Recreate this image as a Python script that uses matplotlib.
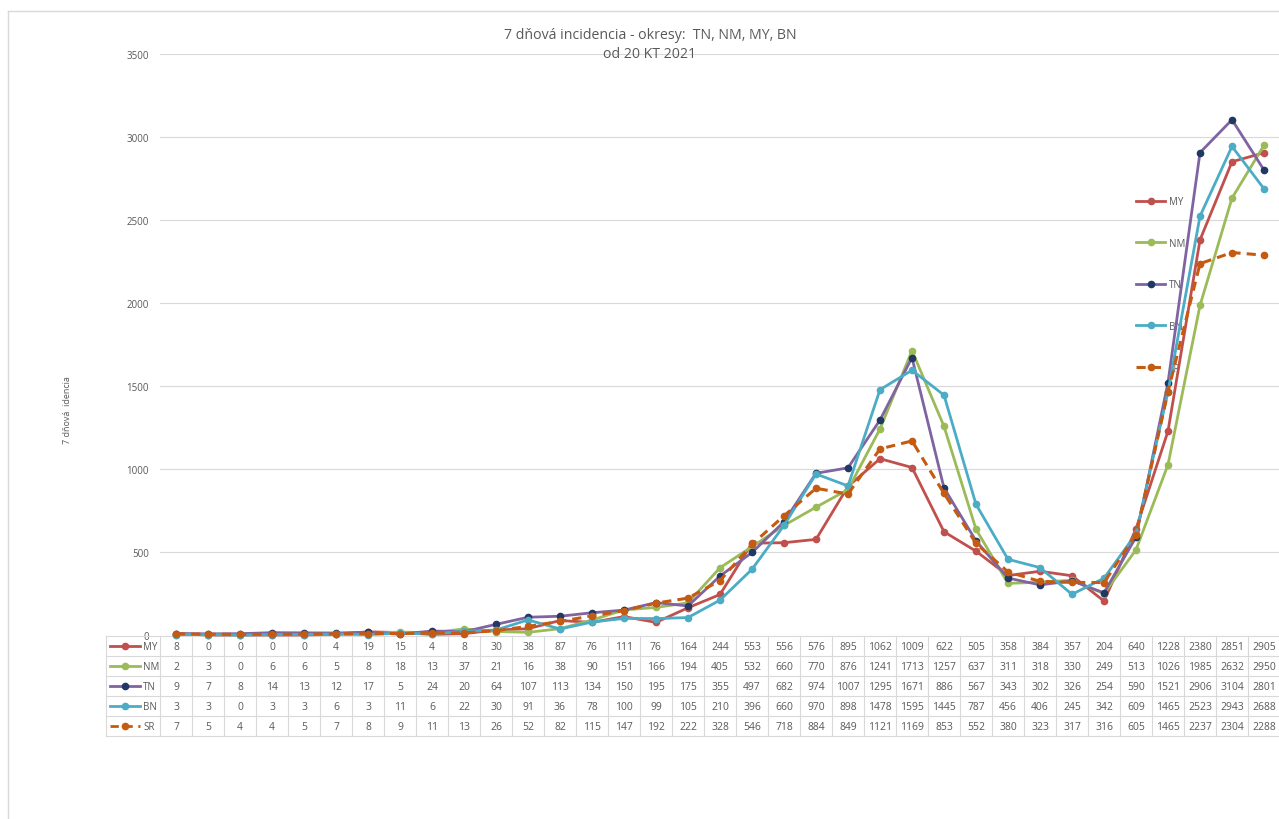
import numpy as np
import matplotlib.pyplot as plt
from matplotlib.lines import Line2D

# data
series_names = ["MY", "NM", "TN", "BN", "SR"]
my = [8, 0, 0, 0, 0, 4, 19, 15, 4, 8, 30, 38, 87, 76, 111, 76, 164, 244, 553, 556,
      576, 895, 1062, 1009, 622, 505, 358, 384, 357, 204, 640, 1228, 2380, 2851, 2905]
nm = [2, 3, 0, 6, 6, 5, 8, 18, 13, 37, 21, 16, 38, 90, 151, 166, 194, 405, 532, 660,
      770, 876, 1241, 1713, 1257, 637, 311, 318, 330, 249, 513, 1026, 1985, 2632, 2950]
tn = [9, 7, 8, 14, 13, 12, 17, 5, 24, 20, 64, 107, 113, 134, 150, 195, 175, 355, 497, 682,
      974, 1007, 1295, 1671, 886, 567, 343, 302, 326, 254, 590, 1521, 2906, 3104, 2801]
bn = [3, 3, 0, 3, 3, 6, 3, 11, 6, 22, 30, 91, 36, 78, 100, 99, 105, 210, 396, 660,
      970, 898, 1478, 1595, 1445, 787, 456, 406, 245, 342, 609, 1465, 2523, 2943, 2688]
sr = [7, 5, 4, 4, 5, 7, 8, 9, 11, 13, 26, 52, 82, 115, 147, 192, 222, 328, 546, 718,
      884, 849, 1121, 1169, 853, 552, 380, 323, 317, 316, 605, 1465, 2237, 2304, 2288]
values = [my, nm, tn, bn, sr]

colors = ["#C0504D", "#9BBB59", "#8064A2", "#4BACC6", "#C55A11"]
marker_colors = ["#C0504D", "#9BBB59", "#1F3864", "#4BACC6", "#C55A11"]
styles = ["-", "-", "-", "-", "--"]

title = "7 dňová incidencia - okresy:  TN, NM, MY, BN\nod 20 KT 2021"
ylabel = "7 dňová  idencia"
yticks = [0, 500, 1000, 1500, 2000, 2500, 3000, 3500]

plt.rcParams['font.family'] = ['Open Sans', 'DejaVu Sans']
text_col = "#595959"
grid_col = "#D9D9D9"

W, H = 1279, 820
fig = plt.figure(figsize=(W / 100, H / 100), dpi=100)


def fx(p):
    return p / W


def fy(p):
    return 1 - p / H


ax_left, ax_right, ax_top, ax_bot = 160, 1279, 55, 636
ax = fig.add_axes([fx(ax_left), fy(ax_bot), fx(ax_right - ax_left), (ax_bot - ax_top) / H])

n = len(my)
col_w = 32.0
x = np.arange(n)
ax.set_xlim(-0.5, -0.5 + (ax_right - ax_left) / col_w)
ax.set_ylim(0, 3500)


def dx(p):
    # pixel x -> data x
    return (p - ax_left) / col_w - 0.5


for name, v, c, mc, ls in zip(series_names, values, colors, marker_colors, styles):
    ax.plot(x, v, color=c, ls=ls, lw=2.0 if ls == "-" else 2.2, marker="o",
            markersize=4.5, markerfacecolor=mc, markeredgecolor=mc, label=name,
            dashes=(3, 2) if ls == "--" else (None, None), clip_on=False, zorder=3)

ax.set_yticks(yticks)
ax.set_yticklabels([str(t) for t in yticks], fontsize=7, color=text_col)
ax.tick_params(axis="y", length=0, pad=8)
ax.tick_params(axis="x", length=0, labelbottom=False)
ax.set_xticks([])
ax.grid(axis="y", color=grid_col, lw=0.8)
ax.set_axisbelow(True)
for s in ax.spines.values():
    s.set_visible(False)

# legend on the right, sits under the lines like in excel
leg = ax.legend(loc="upper left", bbox_to_anchor=(fx(1136), fy(197)),
                bbox_transform=fig.transFigure, frameon=False, fontsize=7,
                labelspacing=3.15, handlelength=3.0, handletextpad=0.35,
                borderpad=0, borderaxespad=0)
leg.set_zorder(2)
for t in leg.get_texts():
    t.set_color(text_col)

# data table under the plot
row_h = 20
tab_top = ax_bot + 1
ah = ax_bot - ax_top
blend = ax.get_xaxis_transform()
tab_left = dx(106)
tab_right = ax.get_xlim()[1] + 1


def ay(p):
    # pixel y -> axes fraction
    return (ax_bot - p) / ah


for k in range(len(series_names) + 1):
    yy = ay(tab_top + k * row_h)
    ax.plot([tab_left, tab_right], [yy, yy], transform=blend, color=grid_col,
            lw=0.8, clip_on=False)
for b in [tab_left] + list(np.arange(n + 1) - 0.5):
    ax.plot([b, b], [ay(tab_top), ay(tab_top + len(series_names) * row_h)],
            transform=blend, color=grid_col, lw=0.8, clip_on=False)

for k, (name, v, c, mc, ls) in enumerate(zip(series_names, values, colors, marker_colors, styles)):
    yc = ay(tab_top + (k + 0.5) * row_h)
    ax.plot([dx(110), dx(140)], [yc, yc], transform=blend, color=c, lw=2.0, ls=ls,
            dashes=(3, 2) if ls == "--" else (None, None), clip_on=False)
    ax.plot([dx(125)], [yc], transform=blend, marker="o", markersize=4.5, color=mc,
            clip_on=False)
    ax.text(dx(143), yc, name, transform=blend, fontsize=7, color=text_col,
            ha="left", va="center")
    for i, val in enumerate(v):
        ax.text(i, yc, str(val), transform=blend, fontsize=7.5, color=text_col,
                ha="center", va="center")

fig.text(fx(650), fy(45), title, ha="center", va="center", fontsize=10.2,
         color=text_col, linespacing=1.3)
fig.text(fx(68), fy(410), ylabel, rotation=90, ha="center", va="center",
         fontsize=6.5, color=text_col)

# outer chart frame
fig.add_artist(Line2D([fx(8), fx(8)], [fy(12), 0], color=grid_col, lw=1))
fig.add_artist(Line2D([fx(8), 1], [fy(12), fy(12)], color=grid_col, lw=1))

fig.savefig("out.png", dpi=100)
